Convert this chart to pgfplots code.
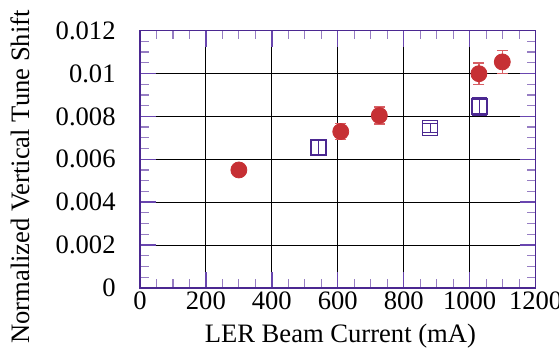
\documentclass[border=0pt]{standalone}
\usepackage{fontspec}
\setmainfont{Liberation Serif}
\usepackage{pgfplots}
\pgfplotsset{compat=1.18}
\definecolor{framep}{RGB}{75,40,145}
\definecolor{tickp}{RGB}{105,70,175}
\definecolor{minp}{RGB}{150,125,195}
\definecolor{redc}{RGB}{198,48,52}
\definecolor{redeb}{RGB}{215,95,100}
\begin{document}
\fontsize{13.3}{16}\selectfont
\begin{tikzpicture}
\begin{axis}[
  scale only axis, width=197.9pt, height=128.7pt,
  xmin=0, xmax=1200, ymin=0, ymax=0.012,
  xtick={0,200,400,600,800,1000,1200},
  xticklabels={0,200,400,600,800,1000,1200},
  ytick={0,0.002,0.004,0.006,0.008,0.01,0.012},
  yticklabels={0,0.002,0.004,0.006,0.008,0.01,0.012},
  minor xtick={50,100,150,250,300,350,450,500,550,650,700,750,850,900,950,1050,1100,1150},
  minor ytick={0.0005,0.001,0.0015,0.0025,0.003,0.0035,0.0045,0.005,0.0055,0.0065,0.007,0.0075,0.0085,0.009,0.0095,0.0105,0.011,0.0115},
  scaled y ticks=false,
  tick align=inside,
  major tick length=8pt, minor tick length=4.3pt,
  axis on top,
  axis line style={framep, line width=0.8pt},
  every tick/.style={tickp, line width=0.7pt},
  every minor tick/.append style={minp, line width=0.6pt},
  yticklabel style={inner sep=0pt, xshift=-12pt},
  xticklabel style={inner sep=0pt, yshift=-1.8pt},
  every axis y label/.style={at={(axis description cs:-0.303,0.431)}, rotate=90, anchor=center},
  every axis x label/.style={at={(axis description cs:0.5066,-0.2137)}, anchor=base},
  xlabel={LER Beam Current (mA)},
  ylabel={Normalized Vertical Tune Shift},
]
\pgfplotsinvokeforeach{200,400,600,800,1000}{
  \draw[black, line width=0.5pt] (axis cs:#1,0) -- (axis cs:#1,0.012);
}
\pgfplotsinvokeforeach{0.002,0.004,0.006,0.008,0.01}{
  \draw[black, line width=0.5pt] (axis cs:0,#1) -- (axis cs:1200,#1);
}
\addplot[only marks, mark=square, mark size=3.75pt, color=framep, mark options={line width=0.8pt},
  error bars/.cd, y dir=both, y explicit,
  error bar style={framep, line width=0.6pt},
  error mark options={rotate=90, mark size=3.75pt, framep, line width=0.6pt}]
  coordinates {
  (541,0.00656) +- (0,0.00035)
  (880,0.00745) +- (0,0.0002)
  (1029,0.00846) +- (0,0.0004)
  };
\addplot[only marks, mark=*, mark size=4pt, color=redc,
  error bars/.cd, y dir=both, y explicit,
  error bar style={redeb, line width=0.6pt},
  error mark options={rotate=90, mark size=2.75pt, redeb, line width=0.6pt}]
  coordinates {
  (300,0.00550) +- (0,0.0002)
  (609,0.00729) +- (0,0.00037)
  (726,0.00804) +- (0,0.0004)
  (1028,0.00999) +- (0,0.0005)
  (1099,0.01054) +- (0,0.00055)
  };
\end{axis}
\pgfresetboundingbox
\path ([xshift=-70pt,yshift=-32.5pt]current axis.south west) rectangle ([xshift=11.7pt,yshift=15.3pt]current axis.north east);
\end{tikzpicture}
\end{document}
